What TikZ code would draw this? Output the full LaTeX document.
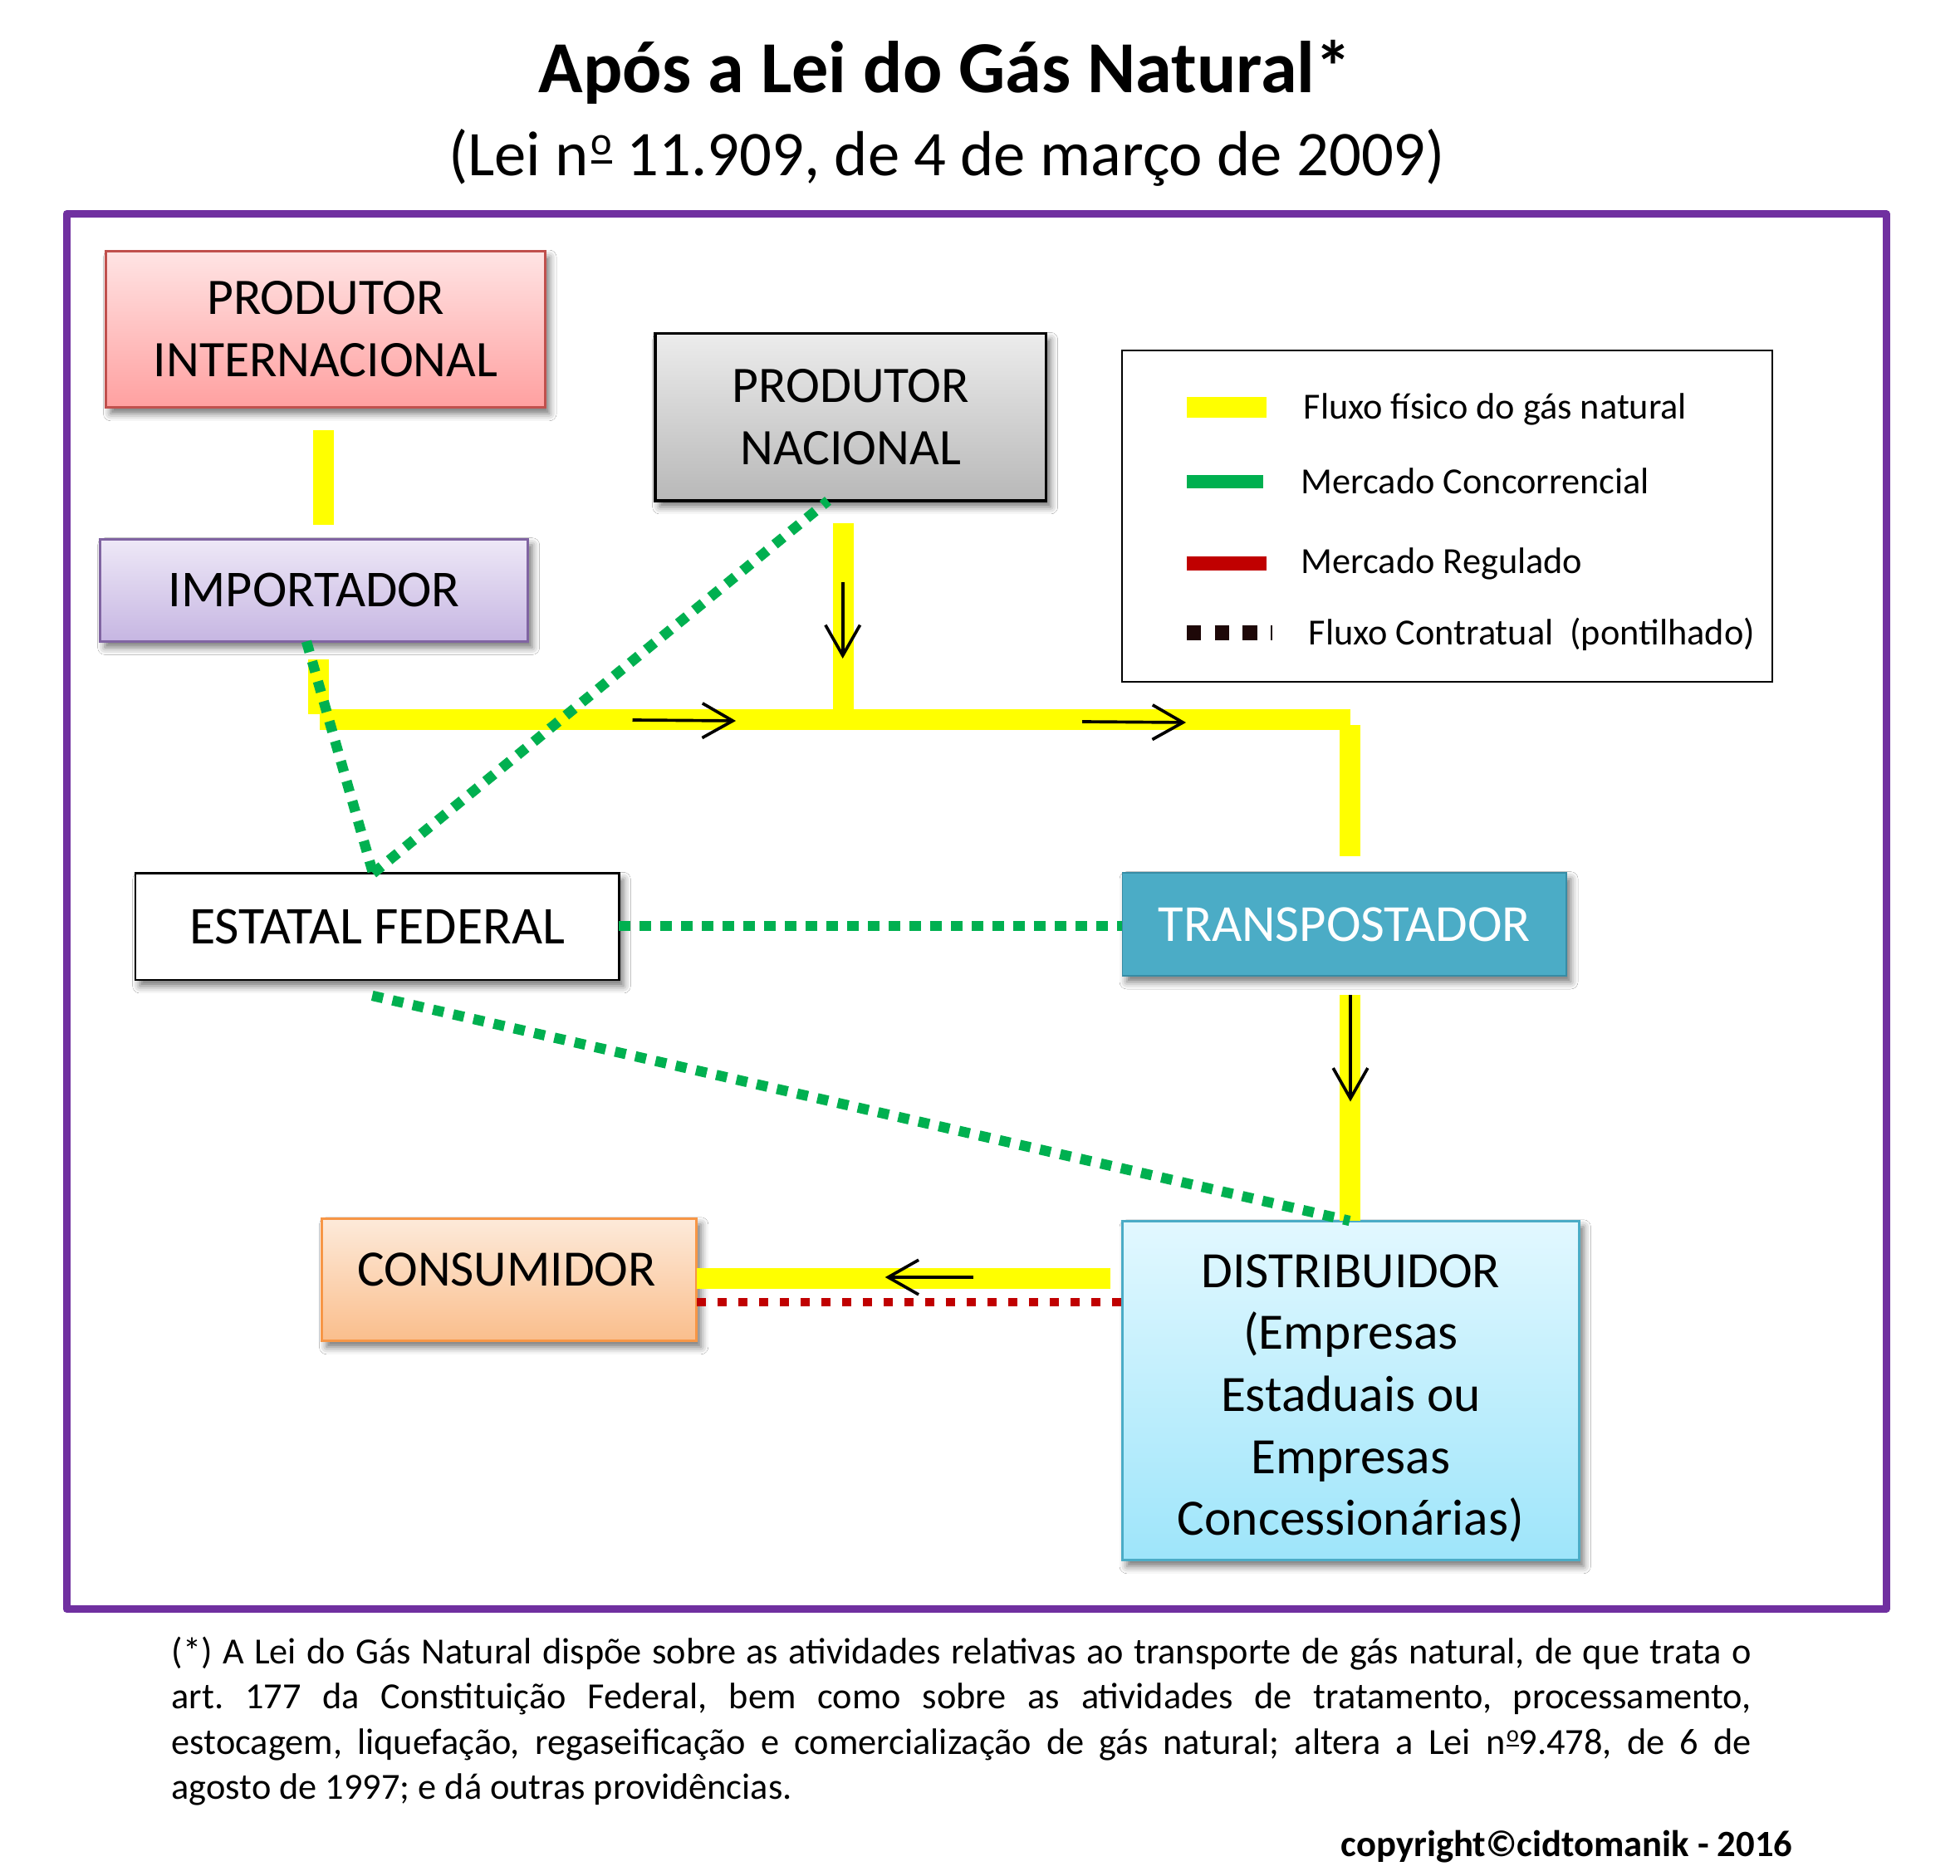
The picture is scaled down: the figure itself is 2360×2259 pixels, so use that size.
\documentclass[tikz,border=0pt]{standalone}
\usepackage{fontspec}
\setmainfont{Carlito}
\usetikzlibrary{arrows.meta,shadows.blur,calc}
\definecolor{framepurple}{RGB}{112,48,160}
\definecolor{gasyellow}{RGB}{255,255,0}
\definecolor{concgreen}{RGB}{0,176,80}
\definecolor{regred}{RGB}{192,0,0}
\definecolor{contrblack}{RGB}{30,8,8}
\definecolor{pintborder}{RGB}{192,80,77}
\definecolor{pinttop}{RGB}{255,228,228}
\definecolor{pintbot}{RGB}{255,160,160}
\definecolor{impborder}{RGB}{128,100,162}
\definecolor{imptop}{RGB}{238,232,247}
\definecolor{impbot}{RGB}{198,182,226}
\definecolor{pntop}{RGB}{236,236,236}
\definecolor{pnbot}{RGB}{184,184,184}
\definecolor{trafill}{RGB}{75,172,198}
\definecolor{traborder}{RGB}{55,140,165}
\definecolor{conborder}{RGB}{247,150,70}
\definecolor{contop}{RGB}{253,234,218}
\definecolor{conbot}{RGB}{250,190,140}
\definecolor{disborder}{RGB}{75,172,198}
\definecolor{distop}{RGB}{226,248,255}
\definecolor{disbot}{RGB}{158,229,250}
\newcommand{\myordm}{\kern0.04em\raisebox{0.2em}{\rlap{\rule{0.33em}{0.05em}}}\raisebox{0.33em}{\makebox[0.33em]{\scalebox{0.63}{o}}}}
\tikzset{
  boxbase/.style={rectangle, inner sep=0pt, outer sep=0pt, align=center,
    font=\fontsize{18.5}{22.5}\selectfont},
  shad/.style={blur shadow={shadow xshift=1.6pt, shadow yshift=-2.2pt,
    shadow blur radius=2.6pt, shadow opacity=55}},
  gasflow/.style={draw=gasyellow, line width=7.5pt, line cap=butt},
  concdot/.style={draw=concgreen, line width=3.7pt, dash pattern=on 4pt off 3.5pt},
  regdot/.style={draw=regred, line width=3.1pt, dash pattern=on 3.3pt off 4.2pt},
  flowarrow/.style={draw=black, line width=1.1pt,
    -{Straight Barb[length=11pt,width=12.5pt]}},
  legtext/.style={anchor=base west, inner sep=0pt, font=\fontsize{13.3}{16}\selectfont},
}
\begin{document}
\begin{tikzpicture}[x=0.3pt,y=-0.3pt]
\fill[white] (0,0) rectangle (2360,2259);
\useasboundingbox (0,0) rectangle (2360,2259);

% titles
\node[anchor=base, inner sep=0pt, font=\fontsize{26.5}{30}\selectfont\bfseries] (title) at (1138,112) {Após a Lei do Gás Natural*};
\node[anchor=base, inner sep=0pt, font=\fontsize{23}{28}\selectfont] (subtitle) at (1140,212) {(Lei n\myordm{} 11.909, de 4 de março de 2009)};

% frame
\draw[framepurple, line width=2.7pt, line join=round] (80,257.6) rectangle (2271,1937.5);

% boxes
\node[boxbase, shad, draw=pintborder, line width=0.9pt, top color=pinttop, bottom color=pintbot,
  minimum width=158.5pt, minimum height=56.5pt] (pint) at (392,396.6) {PRODUTOR\\INTERNACIONAL};
\node[boxbase, shad, draw=impborder, line width=0.9pt, top color=imptop, bottom color=impbot,
  minimum width=154.4pt, minimum height=37pt, font=\fontsize{18.7}{22.5}\selectfont] (imp) at (378.3,710.7) {IMPORTADOR};
\node[boxbase, shad, draw=black, line width=1pt, top color=pntop, bottom color=pnbot,
  minimum width=141.2pt, minimum height=60.4pt] (pnac) at (1024.3,502.3) {PRODUTOR\\NACIONAL};
\node[boxbase, shad, draw=black, line width=0.8pt, fill=white,
  minimum width=174.7pt, minimum height=38.5pt, font=\fontsize{19.2}{22.5}\selectfont] (est) at (454.2,1115.8) {ESTATAL FEDERAL};
\node[boxbase, shad, draw=traborder, line width=0.5pt, fill=trafill, text=white,
  minimum width=160.4pt, minimum height=37.2pt, font=\fontsize{18.8}{22.5}\selectfont] (tra) at (1618.7,1113) {TRANSPOSTADOR};
\node[boxbase, shad, draw=conborder, line width=0.9pt, top color=contop, bottom color=conbot,
  minimum width=135.3pt, minimum height=44.3pt] (con) at (613.3,1540.9) {};
\node[anchor=base, inner sep=0pt, font=\fontsize{18.4}{22.5}\selectfont] (conlabel) at (610,1548.5) {CONSUMIDOR};
\node[boxbase, shad, draw=disborder, line width=0.9pt, top color=distop, bottom color=disbot,
  minimum width=165pt, minimum height=122.6pt] (dis) at (1626.4,1674.4) {};
\node[align=center, inner sep=0pt, font=\fontsize{18.4}{22.4}\selectfont] (distext) at (1626.4,1684)
  {DISTRIBUIDOR\\(Empresas\\Estaduais ou\\Empresas\\Concessionárias)};

% legend
\node[rectangle, draw=black, line width=0.6pt, inner sep=0pt, minimum width=234.8pt, minimum height=119.8pt] (leg) at (1742.7,621.7) {};
\coordinate (lg1a) at (1429,490.8); \coordinate (lg1b) at (1525,490.8);
\coordinate (lg2a) at (1429,580);   \coordinate (lg2b) at (1521,580);
\coordinate (lg3a) at (1429,678.6); \coordinate (lg3b) at (1525,678.6);
\coordinate (lg4a) at (1429,762);   \coordinate (lg4b) at (1531.5,762);
\draw[gasyellow, line width=7.6pt] (lg1a) -- (lg1b);
\draw[concgreen, line width=4.8pt] (lg2a) -- (lg2b);
\draw[regred, line width=5.1pt] (lg3a) -- (lg3b);
\draw[contrblack, line width=5.2pt, dash pattern=on 5.2pt off 4.9pt] (lg4a) -- (lg4b);
\node[legtext] (lt1) at (1569,505) {Fluxo físico do gás natural};
\node[legtext] (lt2) at (1566,595) {Mercado Concorrencial};
\node[legtext] (lt3) at (1566,691) {Mercado Regulado};
\node[legtext] (lt4) at (1575,777) {Fluxo Contratual\ \ (pontilhado)};

% yellow physical flow
\coordinate (piA) at (389.8,518);  \coordinate (piB) at (389.8,631.6);
\coordinate (imA) at (383.5,794);  \coordinate (imB) at (383.5,860);
\coordinate (hL) at (385,867);     \coordinate (hR) at (1626,867);
\coordinate (pnA) at (1015,630);   \coordinate (pnB) at (1015,860);
\coordinate (vR1) at (1625,873.5); \coordinate (vR2) at (1625,1030.6);
\coordinate (trA) at (1625,1197.7);
\coordinate (diA) at (1337,1539);
\draw[gasflow] (piA) -- (piB);
\draw[gasflow] (imA) -- (imB);
\draw[gasflow] (hL) -- (hR);
\draw[gasflow] (pnA) -- (pnB);
\draw[gasflow] (vR1) -- (vR2);
\draw[gasflow] (trA) -- (trA |- dis.north);
\draw[gasflow] (diA) -- (con.east |- diA);

% green (concorrencial) dotted
\coordinate (gA) at ($(est.east)+(0,-1)$);
\coordinate (gB) at ($(est.south)+(-6,19)$);
\coordinate (rA) at ($(con.east)+(0,27)$);
\draw[concdot] ([xshift=-2.8pt]imp.south) -- ([xshift=-1.5pt]est.north);
\draw[concdot] ([xshift=-1.5pt]est.north) -- ([xshift=-8.2pt]pnac.south);
\draw[concdot] (gA) -- (gA -| tra.west);
\draw[concdot] (gB) -- ([xshift=-0.4pt]dis.north);

% red (regulado) dotted
\draw[regdot] (rA) -- (rA -| dis.west);

% black flow arrows
\coordinate (a1s) at (761.5,867); \coordinate (a1e) at (886,868);
\coordinate (a2s) at (1303,869);  \coordinate (a2e) at (1428,870);
\coordinate (a3s) at (1014.7,701.5); \coordinate (a3e) at (1014.7,793);
\coordinate (a4s) at (1626,1198); \coordinate (a4e) at (1626,1326.5);
\coordinate (a5s) at (1171.8,1538); \coordinate (a5e) at (1065.7,1538);
\draw[flowarrow] (a1s) -- (a1e);
\draw[flowarrow] (a2s) -- (a2e);
\draw[flowarrow] (a3s) -- (a3e);
\draw[flowarrow] (a4s) -- (a4e);
\draw[flowarrow] (a5s) -- (a5e);

% footnote
\node[anchor=base west, inner sep=0pt, text width=570.6pt, align=justify,
  font=\fontsize{13.3}{16.35}\selectfont\frenchspacing] (foot) at (206,2003)
  {(*) A Lei do Gás Natural dispõe sobre as atividades relativas ao transporte de gás natural, de que trata o\linebreak
   art. 177 da Constituição Federal, bem como sobre as atividades de tratamento, processamento,\linebreak
   estocagem, liquefação, regaseificação e comercialização de gás natural; altera a Lei n\myordm 9.478, de 6 de\linebreak
   agosto de 1997; e dá outras providências.};
\node[anchor=base east, inner sep=0pt, font=\fontsize{13.4}{16}\selectfont\bfseries] (copy) at (2159,2235)
  {copyright©cidtomanik - 2016};
\end{tikzpicture}
\end{document}
